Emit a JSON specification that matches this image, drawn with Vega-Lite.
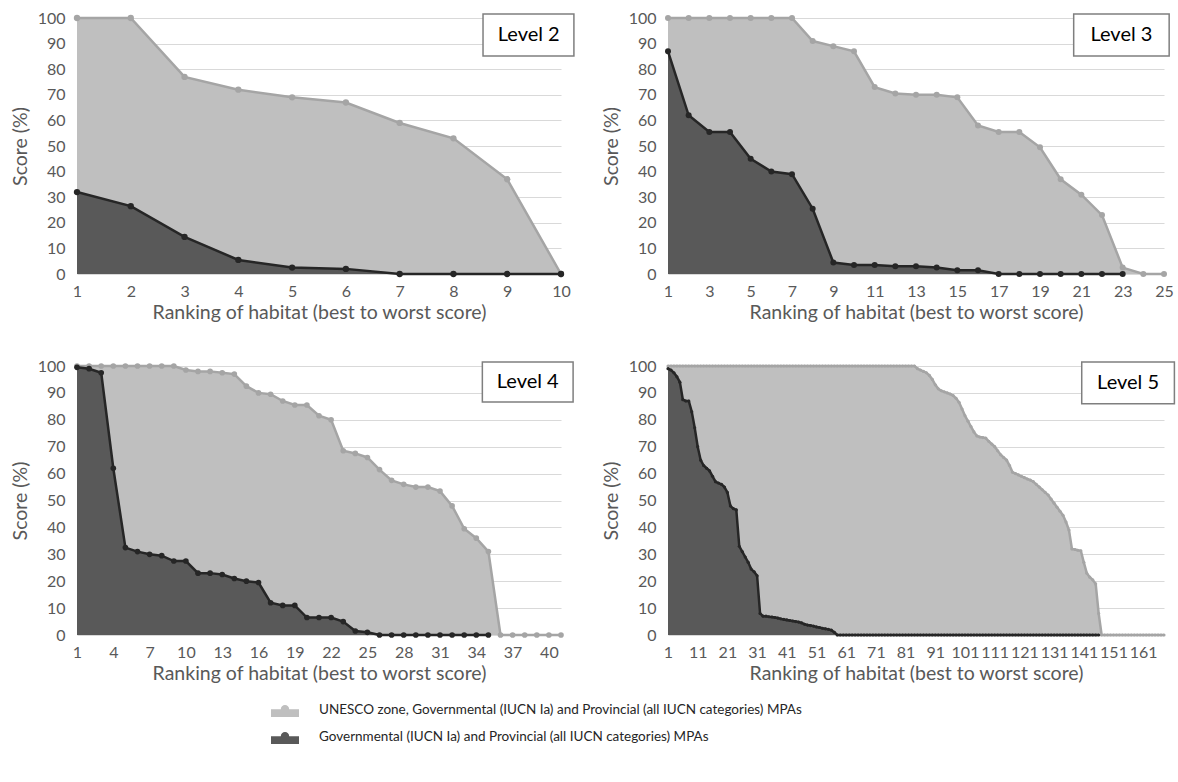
{
"$schema": "https://vega.github.io/schema/vega-lite/v6.json",
"padding": {"left": 10, "top": 10, "right": 0, "bottom": 0},
"bounds": "flush",
"columns": 2,
"spacing": {"column": 107, "row": 92},
"datasets": {
"l2": [
{"r":1,"u":100,"g":32},{"r":2,"u":100,"g":26.5},{"r":3,"u":77,"g":14.5},{"r":4,"u":72,"g":5.5},{"r":5,"u":69,"g":2.5},{"r":6,"u":67,"g":2},{"r":7,"u":59,"g":0},{"r":8,"u":53,"g":0},{"r":9,"u":37,"g":0},{"r":10,"u":0,"g":0}],
"l3": [
{"r":1,"u":100,"g":87},{"r":2,"u":100,"g":62},{"r":3,"u":100,"g":55.5},{"r":4,"u":100,"g":55.5},{"r":5,"u":100,"g":45},{"r":6,"u":100,"g":40},{"r":7,"u":100,"g":39},{"r":8,"u":91,"g":25.5},{"r":9,"u":89,"g":4.5},{"r":10,"u":87,"g":3.5},{"r":11,"u":73,"g":3.5},{"r":12,"u":70.5,"g":3},{"r":13,"u":70,"g":3},{"r":14,"u":70,"g":2.5},{"r":15,"u":69,"g":1.5},{"r":16,"u":58,"g":1.5},{"r":17,"u":55.5,"g":0},{"r":18,"u":55.5,"g":0},{"r":19,"u":49.5,"g":0},{"r":20,"u":37,"g":0},{"r":21,"u":31,"g":0},{"r":22,"u":23,"g":0},{"r":23,"u":2.5,"g":0},{"r":24,"u":0,"g":null},{"r":25,"u":0,"g":null}],
"l4": [
{"r":1,"u":100,"g":99.5},{"r":2,"u":100,"g":99},{"r":3,"u":100,"g":97.5},{"r":4,"u":100,"g":62},{"r":5,"u":100,"g":32.5},{"r":6,"u":100,"g":31},{"r":7,"u":100,"g":30},{"r":8,"u":100,"g":29.5},{"r":9,"u":100,"g":27.5},{"r":10,"u":98.5,"g":27.5},{"r":11,"u":98,"g":23},{"r":12,"u":98,"g":23},{"r":13,"u":97.5,"g":22.5},{"r":14,"u":97,"g":21},{"r":15,"u":92.5,"g":20},{"r":16,"u":90,"g":19.5},{"r":17,"u":89.5,"g":12},{"r":18,"u":87,"g":11},{"r":19,"u":85.5,"g":11},{"r":20,"u":85.5,"g":6.5},{"r":21,"u":81.5,"g":6.5},{"r":22,"u":80,"g":6.5},{"r":23,"u":68.5,"g":5},{"r":24,"u":67.5,"g":1.5},{"r":25,"u":66,"g":1},{"r":26,"u":61.5,"g":0},{"r":27,"u":57.5,"g":0},{"r":28,"u":56,"g":0},{"r":29,"u":55,"g":0},{"r":30,"u":55,"g":0},{"r":31,"u":53.5,"g":0},{"r":32,"u":48,"g":0},{"r":33,"u":39.5,"g":0},{"r":34,"u":36,"g":0},{"r":35,"u":31,"g":0},{"r":36,"u":0,"g":null},{"r":37,"u":0,"g":null},{"r":38,"u":0,"g":null},{"r":39,"u":0,"g":null},{"r":40,"u":0,"g":null},{"r":41,"u":0,"g":null}],
"l5": [
{"r":1,"u":100,"g":99},{"r":2,"u":100,"g":98.5},{"r":3,"u":100,"g":97.5},{"r":4,"u":100,"g":96},{"r":5,"u":100,"g":94},{"r":6,"u":100,"g":87.5},{"r":7,"u":100,"g":87},{"r":8,"u":100,"g":87},{"r":9,"u":100,"g":83},{"r":10,"u":100,"g":77},
{"r":11,"u":100,"g":70},{"r":12,"u":100,"g":65},{"r":13,"u":100,"g":63},{"r":14,"u":100,"g":62},{"r":15,"u":100,"g":61},{"r":16,"u":100,"g":59},{"r":17,"u":100,"g":57},{"r":18,"u":100,"g":56.5},{"r":19,"u":100,"g":56},{"r":20,"u":100,"g":55},
{"r":21,"u":100,"g":53},{"r":22,"u":100,"g":48},{"r":23,"u":100,"g":47},{"r":24,"u":100,"g":46.5},{"r":25,"u":100,"g":33},{"r":26,"u":100,"g":31},{"r":27,"u":100,"g":29},{"r":28,"u":100,"g":27},{"r":29,"u":100,"g":24.5},{"r":30,"u":100,"g":23.5},
{"r":31,"u":100,"g":22},{"r":32,"u":100,"g":8},{"r":33,"u":100,"g":7},{"r":34,"u":100,"g":7},{"r":35,"u":100,"g":6.8},{"r":36,"u":100,"g":6.7},{"r":37,"u":100,"g":6.5},{"r":38,"u":100,"g":6.3},{"r":39,"u":100,"g":6},{"r":40,"u":100,"g":5.8},
{"r":41,"u":100,"g":5.6},{"r":42,"u":100,"g":5.4},{"r":43,"u":100,"g":5.2},{"r":44,"u":100,"g":5},{"r":45,"u":100,"g":4.8},{"r":46,"u":100,"g":4.5},{"r":47,"u":100,"g":4},{"r":48,"u":100,"g":3.7},{"r":49,"u":100,"g":3.5},{"r":50,"u":100,"g":3.3},
{"r":51,"u":100,"g":3},{"r":52,"u":100,"g":2.8},{"r":53,"u":100,"g":2.5},{"r":54,"u":100,"g":2.3},{"r":55,"u":100,"g":2.1},{"r":56,"u":100,"g":1.8},{"r":57,"u":100,"g":1},{"r":58,"u":100,"g":0},{"r":59,"u":100,"g":0},{"r":60,"u":100,"g":0},
{"r":61,"u":100,"g":0},{"r":62,"u":100,"g":0},{"r":63,"u":100,"g":0},{"r":64,"u":100,"g":0},{"r":65,"u":100,"g":0},{"r":66,"u":100,"g":0},{"r":67,"u":100,"g":0},{"r":68,"u":100,"g":0},{"r":69,"u":100,"g":0},{"r":70,"u":100,"g":0},
{"r":71,"u":100,"g":0},{"r":72,"u":100,"g":0},{"r":73,"u":100,"g":0},{"r":74,"u":100,"g":0},{"r":75,"u":100,"g":0},{"r":76,"u":100,"g":0},{"r":77,"u":100,"g":0},{"r":78,"u":100,"g":0},{"r":79,"u":100,"g":0},{"r":80,"u":100,"g":0},
{"r":81,"u":100,"g":0},{"r":82,"u":100,"g":0},{"r":83,"u":100,"g":0},{"r":84,"u":100,"g":0},{"r":85,"u":99,"g":0},{"r":86,"u":98.5,"g":0},{"r":87,"u":98,"g":0},{"r":88,"u":97.5,"g":0},{"r":89,"u":96.5,"g":0},{"r":90,"u":95,"g":0},
{"r":91,"u":93,"g":0},{"r":92,"u":91.5,"g":0},{"r":93,"u":90.8,"g":0},{"r":94,"u":90.4,"g":0},{"r":95,"u":90,"g":0},{"r":96,"u":89.6,"g":0},{"r":97,"u":89,"g":0},{"r":98,"u":88,"g":0},{"r":99,"u":86.5,"g":0},{"r":100,"u":84,"g":0},
{"r":101,"u":81.5,"g":0},{"r":102,"u":79.5,"g":0},{"r":103,"u":77.5,"g":0},{"r":104,"u":75.5,"g":0},{"r":105,"u":74,"g":0},{"r":106,"u":73.6,"g":0},{"r":107,"u":73.4,"g":0},{"r":108,"u":73.2,"g":0},{"r":109,"u":72,"g":0},{"r":110,"u":71,"g":0},
{"r":111,"u":70,"g":0},{"r":112,"u":68.5,"g":0},{"r":113,"u":67,"g":0},{"r":114,"u":66,"g":0},{"r":115,"u":65,"g":0},{"r":116,"u":63,"g":0},{"r":117,"u":60.5,"g":0},{"r":118,"u":60,"g":0},{"r":119,"u":59.5,"g":0},{"r":120,"u":59,"g":0},
{"r":121,"u":58.5,"g":0},{"r":122,"u":58,"g":0},{"r":123,"u":57.6,"g":0},{"r":124,"u":57,"g":0},{"r":125,"u":56,"g":0},{"r":126,"u":55,"g":0},{"r":127,"u":54,"g":0},{"r":128,"u":53,"g":0},{"r":129,"u":52,"g":0},{"r":130,"u":50.5,"g":0},
{"r":131,"u":49,"g":0},{"r":132,"u":47.5,"g":0},{"r":133,"u":46,"g":0},{"r":134,"u":44.5,"g":0},{"r":135,"u":42,"g":0},{"r":136,"u":39,"g":0},{"r":137,"u":32,"g":0},{"r":138,"u":31.8,"g":0},{"r":139,"u":31.5,"g":0},{"r":140,"u":31.3,"g":0},
{"r":141,"u":27,"g":0},{"r":142,"u":23,"g":0},{"r":143,"u":21.5,"g":0},{"r":144,"u":20.5,"g":0},{"r":145,"u":19,"g":0},{"r":146,"u":8,"g":0},{"r":147,"u":0,"g":null},{"r":148,"u":0,"g":null},{"r":149,"u":0,"g":null},{"r":150,"u":0,"g":null},
{"r":151,"u":0,"g":null},{"r":152,"u":0,"g":null},{"r":153,"u":0,"g":null},{"r":154,"u":0,"g":null},{"r":155,"u":0,"g":null},{"r":156,"u":0,"g":null},{"r":157,"u":0,"g":null},{"r":158,"u":0,"g":null},{"r":159,"u":0,"g":null},{"r":160,"u":0,"g":null},
{"r":161,"u":0,"g":null},{"r":162,"u":0,"g":null},{"r":163,"u":0,"g":null},{"r":164,"u":0,"g":null},{"r":165,"u":0,"g":null},{"r":166,"u":0,"g":null},{"r":167,"u":0,"g":null},{"r":168,"u":0,"g":null}]
},
"config": {
"font": "Lato",
"view": {"stroke": null},
"axis": {"labelColor": "#595959", "titleColor": "#595959", "labelFontSize": 16, "titleFontSize": 19.5, "titleFontWeight": "normal", "grid": false, "ticks": false, "domain": false, "labelOverlap": false, "labelFlush": false},
"axisY": {"grid": true, "gridColor": "#d9d9d9", "gridWidth": 1, "labelPadding": 12, "titlePadding": 7},
"axisX": {"labelPadding": 9, "titlePadding": 4},
"legend": {"orient": "none", "legendX": 194, "legendY": 678, "direction": "vertical", "title": null,
  "symbolType": "M-1,-0.05H1V0.5H-1Z M-0.3,-0.05A0.3,0.3 0 1,1 0.3,-0.05A0.3,0.3 0 1,1 -0.3,-0.05Z",
  "symbolSize": 784, "symbolStrokeWidth": 0, "symbolOpacity": 1, "labelFontSize": 13.5, "labelColor": "#262626", "labelLimit": 0, "rowPadding": 6, "labelOffset": 20}
},
"concat": [
{
 "width": 484, "height": 256,
 "data": {"name": "l2"},
 "encoding": {
  "x": {"field": "r", "type": "quantitative", "scale": {"domain": [1, 10], "nice": false, "zero": false}, "axis": {"values": [1,2,3,4,5,6,7,8,9,10], "title": "Ranking of habitat (best to worst score)"}},
  "y": {"field": "u", "type": "quantitative", "scale": {"domain": [0, 100], "nice": false}, "axis": {"values": [0,10,20,30,40,50,60,70,80,90,100], "title": "Score (%)"}}
 },
 "layer": [
  {"mark": {"type": "area", "opacity": 1}, "encoding": {"color": {"datum": "UNESCO zone, Governmental (IUCN Ia) and Provincial (all IUCN categories) MPAs", "scale": {"domain": ["UNESCO zone, Governmental (IUCN Ia) and Provincial (all IUCN categories) MPAs", "Governmental (IUCN Ia) and Provincial (all IUCN categories) MPAs"], "range": ["#bfbfbf", "#595959"]}}}},
  {"mark": {"type": "line", "color": "#a5a5a5", "strokeWidth": 2.5, "point": {"filled": true, "size": 40, "color": "#a5a5a5"}}},
  {"transform": [{"filter": {"field": "g", "valid": true}}], "mark": {"type": "area", "opacity": 1}, "encoding": {"y": {"field": "g", "type": "quantitative", "axis": {"values": [0,10,20,30,40,50,60,70,80,90,100], "title": "Score (%)"}}, "color": {"datum": "Governmental (IUCN Ia) and Provincial (all IUCN categories) MPAs"}}},
  {"transform": [{"filter": {"field": "g", "valid": true}}], "mark": {"type": "line", "color": "#262626", "strokeWidth": 2.5, "point": {"filled": true, "size": 40, "color": "#262626"}}, "encoding": {"y": {"field": "g", "type": "quantitative", "axis": {"values": [0,10,20,30,40,50,60,70,80,90,100], "title": "Score (%)"}}}},
  {"transform": [{"filter": "datum.r == 1"}], "mark": {"type": "rect", "fill": "white", "stroke": "#7f7f7f", "strokeWidth": 1.5}, "encoding": {"x": {"datum": 8.55, "type": "quantitative"}, "x2": {"datum": 10.24}, "y": {"datum": 101.6, "type": "quantitative"}, "y2": {"datum": 85.2}}},
  {"transform": [{"filter": "datum.r == 1"}], "mark": {"type": "text", "text": "Level 2", "fontSize": 20, "color": "#000000", "font": "Lato"}, "encoding": {"x": {"datum": 9.4, "type": "quantitative"}, "y": {"datum": 93.4, "type": "quantitative"}}}
 ]
},
{
 "width": 496, "height": 256,
 "data": {"name": "l3"},
 "encoding": {
  "x": {"field": "r", "type": "quantitative", "scale": {"domain": [1, 25], "nice": false, "zero": false}, "axis": {"values": [1,3,5,7,9,11,13,15,17,19,21,23,25], "title": "Ranking of habitat (best to worst score)"}},
  "y": {"field": "u", "type": "quantitative", "scale": {"domain": [0, 100], "nice": false}, "axis": {"values": [0,10,20,30,40,50,60,70,80,90,100], "title": "Score (%)"}}
 },
 "layer": [
  {"mark": {"type": "area", "opacity": 1}, "encoding": {"color": {"datum": "UNESCO zone, Governmental (IUCN Ia) and Provincial (all IUCN categories) MPAs"}}},
  {"mark": {"type": "line", "color": "#a5a5a5", "strokeWidth": 2.5, "point": {"filled": true, "size": 36, "color": "#a5a5a5"}}},
  {"transform": [{"filter": {"field": "g", "valid": true}}], "mark": {"type": "area", "opacity": 1}, "encoding": {"y": {"field": "g", "type": "quantitative", "axis": {"values": [0,10,20,30,40,50,60,70,80,90,100], "title": "Score (%)"}}, "color": {"datum": "Governmental (IUCN Ia) and Provincial (all IUCN categories) MPAs"}}},
  {"transform": [{"filter": {"field": "g", "valid": true}}], "mark": {"type": "line", "color": "#262626", "strokeWidth": 2.5, "point": {"filled": true, "size": 36, "color": "#262626"}}, "encoding": {"y": {"field": "g", "type": "quantitative", "axis": {"values": [0,10,20,30,40,50,60,70,80,90,100], "title": "Score (%)"}}}},
  {"transform": [{"filter": "datum.r == 1"}], "mark": {"type": "rect", "fill": "white", "stroke": "#7f7f7f", "strokeWidth": 1.5}, "encoding": {"x": {"datum": 20.63, "type": "quantitative"}, "x2": {"datum": 25.25}, "y": {"datum": 101.6, "type": "quantitative"}, "y2": {"datum": 85.2}}},
  {"transform": [{"filter": "datum.r == 1"}], "mark": {"type": "text", "text": "Level 3", "fontSize": 20, "color": "#000000", "font": "Lato"}, "encoding": {"x": {"datum": 22.94, "type": "quantitative"}, "y": {"datum": 93.4, "type": "quantitative"}}}
 ]
},
{
 "width": 484, "height": 269,
 "data": {"name": "l4"},
 "encoding": {
  "x": {"field": "r", "type": "quantitative", "scale": {"domain": [1, 41], "nice": false, "zero": false}, "axis": {"values": [1,4,7,10,13,16,19,22,25,28,31,34,37,40], "title": "Ranking of habitat (best to worst score)"}},
  "y": {"field": "u", "type": "quantitative", "scale": {"domain": [0, 100], "nice": false}, "axis": {"values": [0,10,20,30,40,50,60,70,80,90,100], "title": "Score (%)"}}
 },
 "layer": [
  {"mark": {"type": "area", "opacity": 1}, "encoding": {"color": {"datum": "UNESCO zone, Governmental (IUCN Ia) and Provincial (all IUCN categories) MPAs"}}},
  {"mark": {"type": "line", "color": "#a5a5a5", "strokeWidth": 2.5, "point": {"filled": true, "size": 32, "color": "#a5a5a5"}}},
  {"transform": [{"filter": {"field": "g", "valid": true}}], "mark": {"type": "area", "opacity": 1}, "encoding": {"y": {"field": "g", "type": "quantitative", "axis": {"values": [0,10,20,30,40,50,60,70,80,90,100], "title": "Score (%)"}}, "color": {"datum": "Governmental (IUCN Ia) and Provincial (all IUCN categories) MPAs"}}},
  {"transform": [{"filter": {"field": "g", "valid": true}}], "mark": {"type": "line", "color": "#262626", "strokeWidth": 2.5, "point": {"filled": true, "size": 32, "color": "#262626"}}, "encoding": {"y": {"field": "g", "type": "quantitative", "axis": {"values": [0,10,20,30,40,50,60,70,80,90,100], "title": "Score (%)"}}}},
  {"transform": [{"filter": "datum.r == 1"}], "mark": {"type": "rect", "fill": "white", "stroke": "#7f7f7f", "strokeWidth": 1.5}, "encoding": {"x": {"datum": 34.5, "type": "quantitative"}, "x2": {"datum": 42.0}, "y": {"datum": 101.5, "type": "quantitative"}, "y2": {"datum": 86.6}}},
  {"transform": [{"filter": "datum.r == 1"}], "mark": {"type": "text", "text": "Level 4", "fontSize": 20, "color": "#000000", "font": "Lato"}, "encoding": {"x": {"datum": 38.25, "type": "quantitative"}, "y": {"datum": 94, "type": "quantitative"}}}
 ]
},
{
 "width": 496, "height": 269,
 "data": {"name": "l5"},
 "encoding": {
  "x": {"field": "r", "type": "quantitative", "scale": {"domain": [1, 168], "nice": false, "zero": false}, "axis": {"values": [1,11,21,31,41,51,61,71,81,91,101,111,121,131,141,151,161], "title": "Ranking of habitat (best to worst score)"}},
  "y": {"field": "u", "type": "quantitative", "scale": {"domain": [0, 100], "nice": false}, "axis": {"values": [0,10,20,30,40,50,60,70,80,90,100], "title": "Score (%)"}}
 },
 "layer": [
  {"mark": {"type": "area", "opacity": 1}, "encoding": {"color": {"datum": "UNESCO zone, Governmental (IUCN Ia) and Provincial (all IUCN categories) MPAs"}}},
  {"mark": {"type": "line", "color": "#a5a5a5", "strokeWidth": 2.5, "point": {"filled": true, "size": 10, "color": "#a5a5a5"}}},
  {"transform": [{"filter": {"field": "g", "valid": true}}], "mark": {"type": "area", "opacity": 1}, "encoding": {"y": {"field": "g", "type": "quantitative", "axis": {"values": [0,10,20,30,40,50,60,70,80,90,100], "title": "Score (%)"}}, "color": {"datum": "Governmental (IUCN Ia) and Provincial (all IUCN categories) MPAs"}}},
  {"transform": [{"filter": {"field": "g", "valid": true}}], "mark": {"type": "line", "color": "#262626", "strokeWidth": 2.5, "point": {"filled": true, "size": 10, "color": "#262626"}}, "encoding": {"y": {"field": "g", "type": "quantitative", "axis": {"values": [0,10,20,30,40,50,60,70,80,90,100], "title": "Score (%)"}}}},
  {"transform": [{"filter": "datum.r == 1"}], "mark": {"type": "rect", "fill": "white", "stroke": "#7f7f7f", "strokeWidth": 1.5}, "encoding": {"x": {"datum": 140.3, "type": "quantitative"}, "x2": {"datum": 171.5}, "y": {"datum": 101.5, "type": "quantitative"}, "y2": {"datum": 86.0}}},
  {"transform": [{"filter": "datum.r == 1"}], "mark": {"type": "text", "text": "Level 5", "fontSize": 20, "color": "#000000", "font": "Lato"}, "encoding": {"x": {"datum": 155.9, "type": "quantitative"}, "y": {"datum": 93.8, "type": "quantitative"}}}
 ]
}
]
}
